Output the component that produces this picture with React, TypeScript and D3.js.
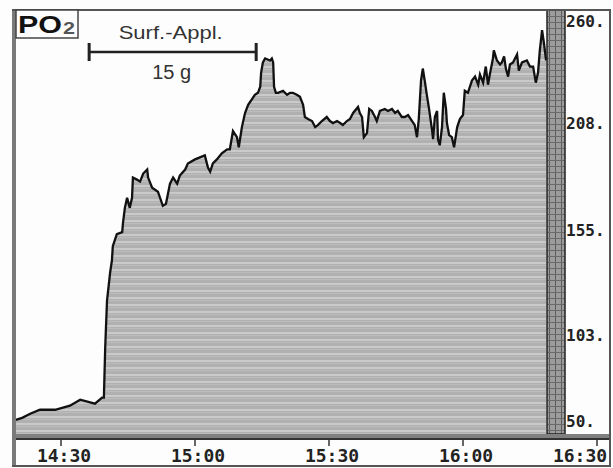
import { useEffect, useRef } from "react";
import * as d3 from "d3";

// minutes after 14:00
const TIME = [
  19.9, 21.3, 23.1, 25.3, 28.7, 32.0, 34.3, 37.6, 39.2, 39.6, 39.9, 40.3, 40.5, 41.0, 41.4, 41.6,
  42.5, 43.7, 43.9, 44.3, 44.8, 45.4, 45.9, 46.1, 47.0, 47.7, 48.4, 49.3, 49.5, 50.4, 51.7, 52.8,
  53.5, 54.4, 55.1, 56.0, 56.6, 57.8, 58.4, 60.0, 61.1, 62.2, 62.9, 63.4, 64.0, 64.9, 66.0, 67.2,
  67.8, 68.5, 69.4, 69.8, 70.5, 71.2, 71.9, 72.8, 73.4, 74.1, 74.6, 74.8, 75.2, 75.7, 76.8, 77.2,
  77.5, 77.7, 78.1, 78.6, 79.7, 80.6, 81.3, 81.9, 82.8, 83.5, 84.2, 84.6, 85.3, 86.2, 86.9, 87.5,
  88.4, 89.5, 90.2, 90.9, 91.8, 92.5, 93.1, 94.0, 94.7, 95.4, 96.5, 96.9, 97.4, 97.8, 98.5, 99.0,
  99.6, 100.3, 100.7, 101.4, 102.5, 103.2, 104.1, 104.8, 105.4, 106.3, 107.0, 107.7, 108.6, 109.2,
  109.7, 110.1, 110.6, 111.0, 111.5, 111.9, 112.4, 113.1, 113.3, 113.7, 114.2, 114.4, 114.8, 115.3,
  115.7, 116.2, 116.4, 116.9, 117.5, 118.0, 118.7, 119.3, 120.0, 120.4, 121.1, 122.0, 122.7, 123.4,
  123.8, 124.5, 125.1, 125.6, 126.0, 126.7, 126.9, 127.6, 128.3, 128.7, 129.2, 129.6, 130.1, 130.5,
  131.2, 132.1, 132.5, 133.2, 134.3, 135.0, 135.7, 136.3, 136.8, 137.2, 137.7, 138.1, 138.6,
];

// PO2, mmHg
const PO2 = [
  57, 58, 60, 62, 62, 64, 67, 65, 68, 68, 93, 116, 120, 130, 136, 143,
  149, 150, 155, 162, 167, 162, 167, 177, 176, 175, 179, 181, 177, 172, 170, 163,
  164, 174, 177, 174, 178, 181, 184, 186, 187, 188, 182, 180, 184, 186, 189, 191,
  191, 200, 197, 192, 202, 209, 213, 216, 218, 219, 222, 229, 234, 236, 235, 236,
  234, 222, 219, 219, 220, 218, 219, 219, 218, 217, 213, 207, 206, 205, 202, 203,
  205, 207, 205, 204, 205, 204, 203, 205, 206, 209, 212, 209, 207, 197, 199, 211,
  210, 207, 205, 210, 211, 210, 211, 209, 210, 207, 207, 208, 205, 203,
  197, 206, 225, 231, 224, 218, 211, 200, 196, 207, 210, 196, 193, 202,
  219, 211, 204, 198, 197, 192, 202, 206, 208, 220, 219, 225, 227, 223,
  228, 224, 232, 223, 228, 236, 240, 235, 233, 234, 237, 231, 227, 233,
  234, 238, 230, 234, 235, 232, 232, 224, 229, 240, 250, 244, 235,
];

const Y_TICKS = [260, 208, 155, 103, 50];
const X_TICKS = [30, 60, 90, 120, 150];
const X_LABELS = ["14:30", "15:00", "15:30", "16:00", "16:30"];
const SURF_START = 36.3;
const SURF_END = 73.7;

export default function App() {
  const svgRef = useRef<SVGSVGElement>(null);

  useEffect(() => {
    if (!svgRef.current) return;
    const svg = d3.select(svgRef.current);
    svg.selectAll("*").remove();

    const W = 613, H = 468;
    const plot = { left: 16, right: 547, top: 10, bottom: 434 };
    const bar = { left: 547, right: 565 };

    const x = d3.scaleLinear().domain([30, 150]).range([61, 597]);
    const y = d3.scaleLinear().domain([50, 260]).range([plot.bottom, plot.top]);

    const data = TIME.slice(0, Math.min(TIME.length, PO2.length)).map((t, i) => ({ t, v: PO2[i] }));

    svg.append("rect").attr("width", W).attr("height", H).attr("fill", "#fdfdfd");

    const defs = svg.append("defs");
    // scan stripes in the fill
    const stripes = defs.append("pattern")
      .attr("id", "stripes").attr("patternUnits", "userSpaceOnUse")
      .attr("width", 8).attr("height", 7);
    stripes.append("rect").attr("width", 8).attr("height", 7).attr("fill", "#b0b0b0");
    stripes.append("rect").attr("y", 3).attr("width", 8).attr("height", 2).attr("fill", "#cacaca");
    stripes.append("rect").attr("y", 6).attr("width", 8).attr("height", 1).attr("fill", "#bcbcbc");

    const grid = defs.append("pattern")
      .attr("id", "bargrid").attr("patternUnits", "userSpaceOnUse")
      .attr("x", bar.left).attr("width", 6).attr("height", 6);
    grid.append("rect").attr("width", 6).attr("height", 6).attr("fill", "#9c9c9c");
    grid.append("rect").attr("x", 2).attr("width", 1).attr("height", 6).attr("fill", "#5c5c5c");
    grid.append("rect").attr("y", 4).attr("width", 6).attr("height", 1).attr("fill", "#6a6a6a");

    // filled trace
    const area = d3.area<{ t: number; v: number }>()
      .x((d) => x(d.t)).y0(plot.bottom).y1((d) => y(d.v));
    svg.append("path").datum(data).attr("d", area).attr("fill", "url(#stripes)");

    const line = d3.line<{ t: number; v: number }>().x((d) => x(d.t)).y((d) => y(d.v));
    svg.append("path").datum(data).attr("d", line)
      .attr("fill", "none").attr("stroke", "#111").attr("stroke-width", 2.3)
      .attr("stroke-linejoin", "miter");

    // dark vertical bar at the right of the trace
    svg.append("rect")
      .attr("x", bar.left).attr("y", plot.top)
      .attr("width", bar.right - bar.left).attr("height", plot.bottom - plot.top)
      .attr("fill", "url(#bargrid)").attr("stroke", "#222").attr("stroke-width", 1.5);

    // bottom band
    svg.append("rect").attr("x", plot.left).attr("y", plot.bottom)
      .attr("width", 610 - plot.left).attr("height", 4).attr("fill", "#808080");
    svg.append("line").attr("x1", plot.left).attr("x2", 610)
      .attr("y1", 439).attr("y2", 439).attr("stroke", "#333").attr("stroke-width", 2);

    // frame
    svg.append("rect").attr("x", 12).attr("y", 9).attr("width", 4).attr("height", 457).attr("fill", "#7a7a7a");
    svg.append("line").attr("x1", 12).attr("x2", 611).attr("y1", 10).attr("y2", 10)
      .attr("stroke", "#555").attr("stroke-width", 2);
    svg.append("line").attr("x1", 610).attr("x2", 610).attr("y1", 9).attr("y2", 466)
      .attr("stroke", "#555").attr("stroke-width", 2);
    svg.append("line").attr("x1", 12).attr("x2", 611).attr("y1", 466).attr("y2", 466)
      .attr("stroke", "#555").attr("stroke-width", 2);

    // y labels
    svg.append("g").selectAll("text").data(Y_TICKS).join("text")
      .attr("x", 566)
      .attr("y", (d) => Math.max(27, Math.min(y(d) + 14, 427)))
      .attr("font-family", "DejaVu Sans Mono").attr("font-weight", "bold")
      .attr("font-size", 16).attr("fill", "#222")
      .text((d) => `${d}.`);

    // x ticks and labels
    svg.append("g").selectAll("line").data(X_TICKS).join("line")
      .attr("x1", (d) => x(d)).attr("x2", (d) => x(d))
      .attr("y1", 438).attr("y2", 446).attr("stroke", "#333").attr("stroke-width", 1.5);
    svg.append("g").selectAll("text").data(X_TICKS).join("text")
      .attr("x", (d) => Math.min(x(d) + 3, 580))
      .attr("y", 462).attr("text-anchor", "middle")
      .attr("font-family", "DejaVu Sans Mono").attr("font-weight", "bold")
      .attr("font-size", 18).attr("fill", "#222")
      .text((_, i) => X_LABELS[i]);

    // PO2 box
    svg.append("rect").attr("x", 16).attr("y", 10).attr("width", 62).attr("height", 28)
      .attr("fill", "#fdfdfd").attr("stroke", "#444").attr("stroke-width", 1.5);
    svg.append("text").attr("x", 18).attr("y", 33)
      .attr("font-family", "Liberation Sans, Arial, sans-serif").attr("fill", "#111")
      .attr("font-size", 24).attr("font-weight", "bold")
      .attr("textLength", 44).attr("lengthAdjust", "spacingAndGlyphs")
      .text("PO");
    svg.append("text").attr("x", 63).attr("y", 34)
      .attr("font-family", "Liberation Sans, Arial, sans-serif").attr("fill", "#555")
      .attr("font-size", 16).attr("font-weight", "bold")
      .attr("textLength", 12).attr("lengthAdjust", "spacingAndGlyphs")
      .text("2");

    // surfactant application annotation
    const x0 = x(SURF_START), x1 = x(SURF_END);
    svg.append("line").attr("x1", x0).attr("x2", x1).attr("y1", 52).attr("y2", 52)
      .attr("stroke", "#222").attr("stroke-width", 2.5);
    [x0, x1].forEach((xx) => {
      svg.append("line").attr("x1", xx).attr("x2", xx).attr("y1", 43).attr("y2", 61)
        .attr("stroke", "#222").attr("stroke-width", 3);
    });
    svg.append("text").attr("x", (x0 + x1) / 2 - 2).attr("y", 39).attr("text-anchor", "middle")
      .attr("font-family", "Liberation Sans, Arial, sans-serif").attr("font-size", 19)
      .attr("textLength", 104).attr("lengthAdjust", "spacingAndGlyphs")
      .attr("fill", "#333").text("Surf.-Appl.");
    svg.append("text").attr("x", (x0 + x1) / 2 - 1).attr("y", 79).attr("text-anchor", "middle")
      .attr("font-family", "Liberation Sans, Arial, sans-serif").attr("font-size", 20)
      .attr("fill", "#333").text("15 g");
  }, []);

  return (
    <svg ref={svgRef} width={613} height={468}
      style={{ position: "absolute", left: 0, top: 0, display: "block" }} />
  );
}
